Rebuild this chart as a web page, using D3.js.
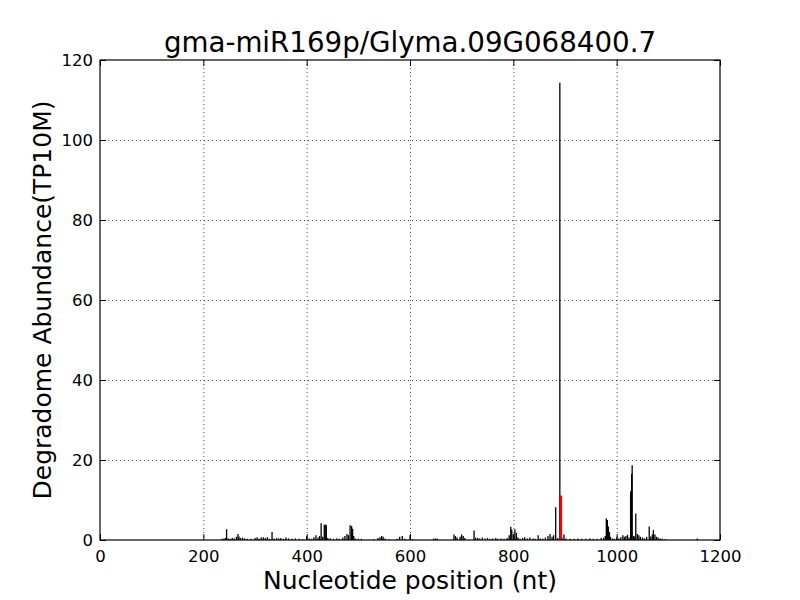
<!DOCTYPE html>
<html>
<head>
<meta charset="utf-8">
<script src="https://cdn.jsdelivr.net/npm/d3@7"></script>
<style>
  body { margin: 0; background: #fff; }
  text { font-family: "DejaVu Sans", sans-serif; }
</style>
</head>
<body>
<div id="container"></div>
<script>
// Degradome T-plot

const titleText = "gma-miR169p/Glyma.09G068400.7"
const xLabel = "Nucleotide position (nt)"
const yLabel = "Degradome Abundance(TP10M)"

const xTicks = [0, 200, 400, 600, 800, 1000, 1200]
const yTicks = [0, 20, 40, 60, 80, 100, 120]

// position (nt) and abundance
const positions = [236, 240, 243, 245, 248, 252, 256, 260, 264, 267, 269, 272, 276, 280, 285, 292,
    300, 304, 308, 312, 316, 320, 324, 328, 333, 337, 342, 346, 350, 355, 360, 365, 372, 378, 385, 392,
    400, 405, 410, 414, 418, 422, 425, 428, 431, 434, 436, 438, 441, 446, 452, 458, 463, 470, 474, 478,
    481, 484, 487, 489, 491, 494, 500, 506, 530, 538, 542, 545, 548, 552, 560, 575, 580, 585, 590, 600,
    605, 646, 650, 653, 685, 688, 691, 697, 700, 703, 706, 724, 727, 731, 735, 740, 745, 750, 755, 760,
    766, 770, 776, 782, 788, 792, 795, 797, 800, 803, 806, 809, 813, 818, 822, 827, 832, 838, 842, 848,
    852, 857, 862, 867, 871, 875, 878, 882, 886, 890, 894, 898, 902, 910, 918, 925, 932, 940, 948, 955,
    962, 970, 975, 978, 980, 982, 984, 986, 988, 992, 996, 1000, 1004, 1008, 1012, 1015, 1018, 1021, 1024,
    1027, 1029, 1030, 1033, 1035, 1037, 1040, 1043, 1046, 1050, 1054, 1058, 1063, 1066, 1069, 1071, 1074,
    1077, 1080, 1084, 1088, 1094, 1156]
const abundances = [0.3, 0.4, 0.5, 2.7, 0.4, 0.3, 0.5, 0.4, 0.8, 1.5, 0.9, 0.5, 0.6, 0.4, 0.3, 0.3,
    0.5, 0.7, 0.3, 0.6, 0.7, 0.5, 0.7, 0.3, 2.0, 0.4, 0.5, 0.4, 0.5, 0.3, 0.6, 0.4, 0.3, 0.4, 0.3, 0.2,
    0.9, 0.4, 0.3, 0.7, 1.2, 0.6, 1.0, 4.2, 0.8, 3.8, 3.9, 3.7, 0.5, 0.4, 0.3, 0.4, 0.3, 0.6, 1.0, 1.5,
    1.2, 3.7, 3.5, 2.8, 1.0, 0.4, 0.3, 0.3, 0.2, 0.5, 0.7, 1.0, 0.8, 0.4, 0.2, 0.3, 0.8, 1.0, 0.3, 1.2,
    0.2, 0.4, 0.4, 0.3, 1.4, 1.0, 0.6, 0.8, 1.4, 1.0, 0.5, 2.4, 0.6, 0.5, 0.4, 0.6, 0.4, 0.5, 0.3, 0.4,
    0.5, 0.3, 0.4, 0.3, 0.5, 1.2, 3.3, 2.6, 1.5, 2.7, 1.8, 0.6, 0.3, 0.5, 0.7, 0.4, 0.6, 0.4, 0.3, 1.2,
    0.4, 0.3, 0.6, 1.0, 1.5, 0.8, 1.2, 8.2, 0.5, 114.3, 0.6, 1.4, 0.4, 0.3, 0.3, 0.4, 0.3, 0.3, 0.4, 0.3,
    0.3, 0.5, 0.6, 1.0, 5.4, 5.0, 3.4, 2.0, 0.8, 0.4, 0.3, 0.6, 0.4, 0.7, 1.2, 0.8, 1.0, 1.3, 0.6,
    12.2, 16.5, 18.7, 1.0, 0.8, 6.6, 1.5, 1.2, 0.8, 0.6, 0.4, 0.8, 3.4, 0.9, 1.4, 2.5, 1.4,
    0.8, 0.6, 0.4, 0.3, 0.2, 0.4]

// predicted cleavage site
const cleavagePos = [892]
const cleavageAbund = [11.1]

const width = 800,
    height = 600
const padding = { top: 60, right: 80, bottom: 60, left: 100 }

const svg = d3.select("#container")
    .append("svg")
    .attr("width", width)
    .attr("height", height)

const xScale = d3.scaleLinear()
    .domain([0, 1200])
    .range([padding.left, width - padding.right])
const yScale = d3.scaleLinear()
    .domain([0, 120])
    .range([height - padding.bottom, padding.top])

const x0 = xScale.range()[0], x1 = xScale.range()[1]
const y0 = yScale.range()[0], y1 = yScale.range()[1]

// grid
const grid = svg.append("g").attr("class", "grid")
grid.selectAll(".gx")
    .data(xTicks.slice(1, -1))
    .enter()
    .append("line")
    .attr("x1", d => xScale(d) + 0.5).attr("x2", d => xScale(d) + 0.5)
    .attr("y1", y1).attr("y2", y0)
    .style("stroke", "black").style("stroke-width", 0.7)
    .style("stroke-dasharray", "1,3")
grid.selectAll(".gy")
    .data(yTicks.slice(1, -1))
    .enter()
    .append("line")
    .attr("y1", d => yScale(d) + 0.5).attr("y2", d => yScale(d) + 0.5)
    .attr("x1", x0).attr("x2", x1)
    .style("stroke", "black").style("stroke-width", 0.7)
    .style("stroke-dasharray", "1,3")

// bars
const bars = positions.map((p, i) => ({ pos: p, val: abundances[i] }))
svg.append("g").attr("class", "bars")
    .selectAll("line")
    .data(bars)
    .enter()
    .append("line")
    .attr("x1", d => xScale(d.pos)).attr("x2", d => xScale(d.pos))
    .attr("y1", y0).attr("y2", d => yScale(d.val))
    .style("stroke", "black").style("stroke-width", 1.3)

svg.append("g").attr("class", "cleavage")
    .selectAll("line")
    .data(cleavagePos.map((p, i) => ({ pos: p, val: cleavageAbund[i] })))
    .enter()
    .append("line")
    .attr("x1", d => xScale(d.pos)).attr("x2", d => xScale(d.pos))
    .attr("y1", y0).attr("y2", d => yScale(d.val))
    .style("stroke", "red").style("stroke-width", 2.6)

// axes, ticks pointing inward on all sides
const tickLen = 6
svg.append("g").attr("id", "x-axis")
    .attr("transform", `translate(0,${y0})`)
    .call(d3.axisBottom(xScale).tickValues(xTicks).tickSize(-tickLen).tickPadding(10).tickFormat(d3.format("d")))
svg.append("g").attr("id", "x-axis-top")
    .attr("transform", `translate(0,${y1})`)
    .call(d3.axisTop(xScale).tickValues(xTicks).tickSize(-tickLen).tickFormat(""))
svg.append("g").attr("id", "y-axis")
    .attr("transform", `translate(${x0},0)`)
    .call(d3.axisLeft(yScale).tickValues(yTicks).tickSize(-tickLen).tickPadding(7))
svg.append("g").attr("id", "y-axis-right")
    .attr("transform", `translate(${x1},0)`)
    .call(d3.axisRight(yScale).tickValues(yTicks).tickSize(-tickLen).tickFormat(""))

svg.selectAll(".domain").remove()
svg.selectAll(".tick line").style("stroke", "black").style("stroke-width", 1)
svg.selectAll(".tick text")
    .style("font-family", "DejaVu Sans")
    .style("font-size", "16.5px")
    .style("fill", "black")

svg.append("rect")
    .attr("x", x0).attr("y", y1)
    .attr("width", x1 - x0).attr("height", y0 - y1)
    .style("fill", "none").style("stroke", "black").style("stroke-width", 1.2)

// labels
svg.append("text")
    .attr("x", (x0 + x1) / 2).attr("y", 52)
    .attr("text-anchor", "middle")
    .style("font-size", "27.7px")
    .text(titleText)

svg.append("text")
    .attr("x", (x0 + x1) / 2).attr("y", 589)
    .attr("text-anchor", "middle")
    .style("font-size", "25px")
    .text(xLabel)

svg.append("text")
    .attr("transform", `translate(51,${(y0 + y1) / 2}) rotate(-90)`)
    .attr("text-anchor", "middle")
    .style("font-size", "25px")
    .text(yLabel)
</script>
</body>
</html>
